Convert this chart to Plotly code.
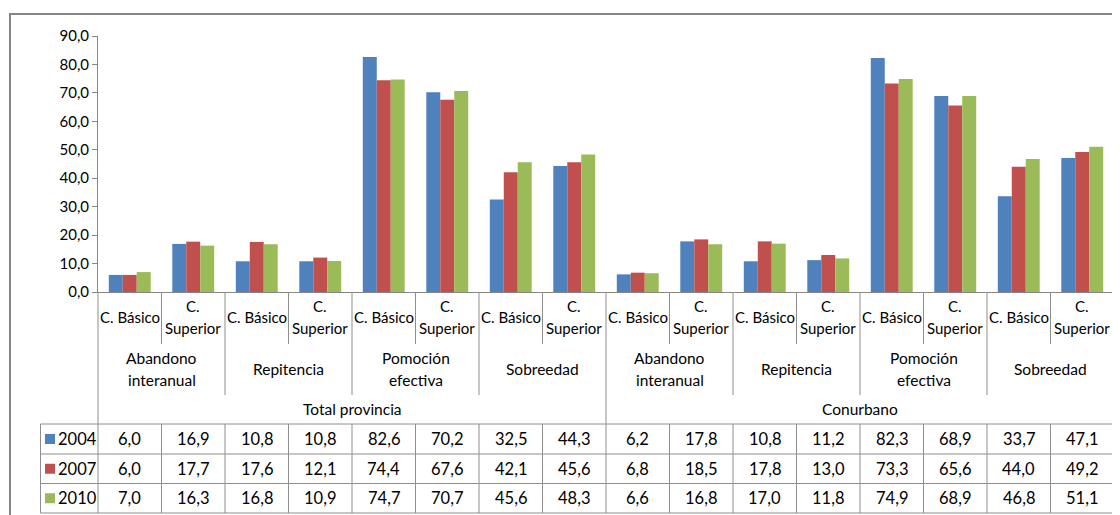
import plotly.graph_objects as go

sub_labels = ["C. Básico", "C.<br>Superior"] * 8
group_labels = ["Abandono<br>interanual", "Repitencia", "Pomoción<br>efectiva", "Sobreedad"] * 2
super_labels = ["Total provincia", "Conurbano"]
years = ["2004", "2007", "2010"]
colors = ["#4F81BD", "#C0504D", "#9BBB59"]

v2004 = [6.0, 16.9, 10.8, 10.8, 82.6, 70.2, 32.5, 44.3, 6.2, 17.8, 10.8, 11.2, 82.3, 68.9, 33.7, 47.1]
v2007 = [6.0, 17.7, 17.6, 12.1, 74.4, 67.6, 42.1, 45.6, 6.8, 18.5, 17.8, 13.0, 73.3, 65.6, 44.0, 49.2]
v2010 = [7.0, 16.3, 16.8, 10.9, 74.7, 70.7, 45.6, 48.3, 6.6, 16.8, 17.0, 11.8, 74.9, 68.9, 46.8, 51.1]
series = [v2004, v2007, v2010]

# page has an 8px body margin, so the figure is 8px smaller than the window
OFF = 8
W, H = 1120 - OFF, 515 - OFF
PLOT_L, PLOT_R, PLOT_T, PLOT_B = 98, 1114, 36, 292  # in window pixels
L = PLOT_L - OFF
T = PLOT_T - OFF
PW = PLOT_R - PLOT_L
PH = PLOT_B - PLOT_T
R = W - L - PW
B = H - T - PH
n = len(sub_labels)

FONT = "Lato"
GRID = "#8e8e8e"


def px_x(px):
    return (px - PLOT_L) / PW


def px_y(py):
    return (PLOT_B - py) / PH


def bx(i):
    return i / n


fig = go.Figure()
xs = list(range(n))
for name, vals, c in zip(years, series, colors):
    fig.add_trace(go.Bar(x=xs, y=vals, name=name, marker=dict(color=c, line=dict(width=0)),
                         showlegend=False))

shapes = []


def vline(xp, y0, y1, color=GRID, width=1):
    shapes.append(dict(type="line", xref="paper", yref="paper", x0=xp, x1=xp,
                       y0=px_y(y0), y1=px_y(y1), line=dict(color=color, width=width)))


def hline(yp, x0, x1, color=GRID, width=1):
    shapes.append(dict(type="line", xref="paper", yref="paper", x0=x0, x1=x1,
                       y0=px_y(yp), y1=px_y(yp), line=dict(color=color, width=width)))


ROW_CAT = 344
ROW_GRP = 395
ROW_TOP = 424
ROWS = [424, 454, 483.5, 513]

for i in range(n + 1):
    xp = bx(i)
    if i == 0 or i == n or i == n // 2:
        vline(xp, 292, 513)
    elif i % 2 == 0:
        vline(xp, 292, ROW_GRP)
        vline(xp, ROW_TOP, 513)
    else:
        vline(xp, 292, ROW_CAT)
        vline(xp, ROW_TOP, 513)
vline(px_x(40.5), ROW_TOP, 513)
for yy in ROWS:
    hline(yy, px_x(40.5), 1)

# outer chart border
shapes.append(dict(type="rect", xref="paper", yref="paper", x0=px_x(10), x1=px_x(1140),
                   y0=px_y(540), y1=px_y(14), line=dict(color="#868686", width=2),
                   fillcolor="rgba(0,0,0,0)"))

for k, c in enumerate(colors):
    yc = (ROWS[k] + ROWS[k + 1]) / 2
    shapes.append(dict(type="rect", xref="paper", yref="paper", x0=px_x(45), x1=px_x(55),
                       y0=px_y(yc + 5), y1=px_y(yc - 5), fillcolor=c, line=dict(width=0)))

ann = []
SUB_FONT = dict(family=FONT, size=15, color="#000000")
LABEL_FONT = dict(family=FONT, size=15.5, color="#000000")
NUM_FONT = dict(family=FONT, size=16.5, color="#000000")
LINE_H = 21.5


def add_lines(x, xref, ycenter, text, font, xanchor="center"):
    parts = text.split("<br>")
    m = len(parts)
    for j, p in enumerate(parts):
        yy = ycenter + (j - (m - 1) / 2) * LINE_H
        ann.append(dict(x=x, xref=xref, y=px_y(yy), yref="paper", text=p, showarrow=False,
                        font=font, xanchor=xanchor, yanchor="middle"))


for i, lab in enumerate(sub_labels):
    add_lines(i, "x", 317, lab, SUB_FONT)
for g, lab in enumerate(group_labels):
    add_lines(2 * g + 0.5, "x", 369, lab, LABEL_FONT)
for s, lab in enumerate(super_labels):
    add_lines(8 * s + 3.5, "x", 409, lab, LABEL_FONT)
for k, (yr, vals) in enumerate(zip(years, series)):
    yc = (ROWS[k] + ROWS[k + 1]) / 2
    add_lines(px_x(56), "paper", yc, yr, NUM_FONT, xanchor="left")
    for i, v in enumerate(vals):
        add_lines(i, "x", yc, f"{v:.1f}".replace(".", ","), NUM_FONT)

fig.update_layout(
    width=W, height=H,
    margin=dict(l=L, r=R, t=T, b=B, pad=0),
    paper_bgcolor="white", plot_bgcolor="white",
    barmode="group", bargap=0.34, bargroupgap=0,
    separators=",.",
    xaxis=dict(range=[-0.5, n - 0.5], showticklabels=False, showgrid=False, zeroline=False,
               showline=True, linecolor="#868686", linewidth=1, ticks=""),
    yaxis=dict(range=[0, 90], dtick=10, tickformat=".1f", showgrid=False, zeroline=False,
               showline=True, linecolor="#868686", linewidth=1, ticks="outside",
               ticklen=5, tickcolor="#868686",
               tickfont=dict(family=FONT, size=15, color="#000000")),
    shapes=shapes, annotations=ann,
)

fig.write_html("out.html")
